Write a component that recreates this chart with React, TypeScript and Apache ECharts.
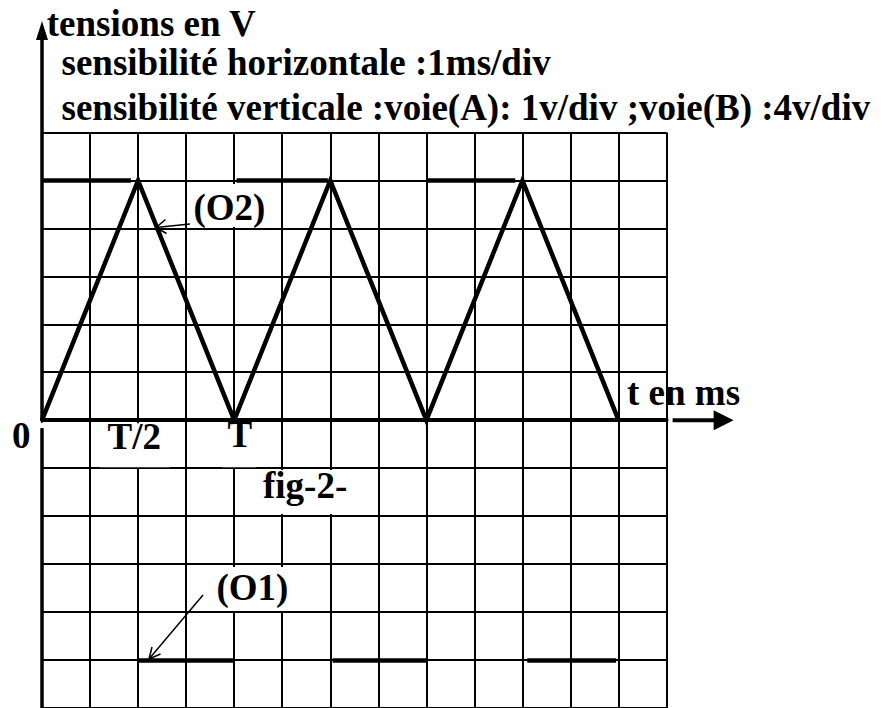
import React, { useEffect, useRef } from "react";
import * as echarts from "echarts";

// ---- data (time in ms, amplitude in divisions) ----
const o2TimesMs = [0, 2, 4, 6, 8, 10, 12];
const o2Divisions = [0, 5, 0, 5, 0, 5, 0];

const o1HighLevel = 5;
const o1LowLevel = -5;
const o1HighStarts = [0, 4.05, 8];
const o1HighEnds = [1.85, 5.95, 9.85];
const o1LowStarts = [1.98, 6.05, 10.1];
const o1LowEnds = [4, 8.02, 11.95];

const xMinMs = 0;
const xMaxMs = 13;
const yMinDiv = -6;
const yMaxDiv = 6;

const tickLabelTexts = ["0", "T/2", "T"];
const titleLines = [
  "tensions en V",
  "sensibilité horizontale :1ms/div",
  "sensibilité verticale :voie(A): 1v/div ;voie(B) :4v/div",
];
const axisTitleX = "t en ms";
const figLabel = "fig-2-";
const o2Label = "(O2)";
const o1Label = "(O1)";

const FONT = '"Liberation Serif", "Times New Roman", serif';
const FONT_SIZE = 37;

function label(text: string, x: number, cy: number) {
  return {
    type: "text",
    x,
    y: cy,
    z: 50,
    style: {
      text,
      fontFamily: FONT,
      fontWeight: "bold",
      fontSize: FONT_SIZE,
      fill: "#000",
      align: "left",
      textAlign: "left",
      verticalAlign: "middle",
      textVerticalAlign: "middle",
    },
  };
}

function mask(x: number, y: number, w: number, h: number) {
  return {
    type: "rect",
    z: 40,
    shape: { x, y, width: w, height: h },
    style: { fill: "#fff", stroke: null },
  };
}

function seg(x1: number, y1: number, x2: number, y2: number, w: number) {
  return {
    type: "line",
    z: 45,
    shape: { x1, y1, x2, y2 },
    style: { stroke: "#000", lineWidth: w, lineCap: "butt" },
  };
}

export default function App() {
  const ref = useRef<HTMLDivElement>(null);

  useEffect(() => {
    if (!ref.current) return;
    const chart = echarts.init(ref.current, null, { renderer: "svg" });

    const o2Data = o2TimesMs.map((t, i) => [t, o2Divisions[i]]);
    const o1Data = [
      ...o1HighStarts.map((s, i) => ({
        coords: [
          [s, o1HighLevel],
          [o1HighEnds[i], o1HighLevel],
        ],
      })),
      ...o1LowStarts.map((s, i) => ({
        coords: [
          [s, o1LowLevel],
          [o1LowEnds[i], o1LowLevel],
        ],
      })),
    ];

    chart.setOption({
      animation: false,
      backgroundColor: "#fff",
      grid: { left: 42, top: 132.5, width: 624.6, height: 575.4, containLabel: false },
      xAxis: {
        type: "value",
        min: xMinMs,
        max: xMaxMs,
        interval: 1,
        axisLine: { show: true, onZero: true, lineStyle: { color: "#000", width: 4 } },
        axisTick: { show: false },
        axisLabel: { show: false },
        splitLine: { show: true, lineStyle: { color: "#000", width: 2 } },
      },
      yAxis: {
        type: "value",
        min: yMinDiv,
        max: yMaxDiv,
        interval: 1,
        axisLine: { show: false },
        axisTick: { show: false },
        axisLabel: { show: false },
        splitLine: { show: true, lineStyle: { color: "#000", width: 2 } },
      },
      series: [
        {
          name: "O2",
          type: "line",
          data: o2Data,
          symbol: "none",
          z: 5,
          lineStyle: { color: "#000", width: 4.5, join: "miter", miterLimit: 10 },
        },
        {
          name: "O1",
          type: "lines",
          coordinateSystem: "cartesian2d",
          data: o1Data,
          z: 5,
          lineStyle: { color: "#000", width: 4.5, opacity: 1, cap: "butt" },
        },
      ],
    });

    const p = (x: number, y: number) =>
      chart.convertToPixel({ gridIndex: 0 }, [x, y]) as number[];
    const [x0, y0] = p(0, 0);
    const yBottom = p(0, yMinDiv)[1];
    const xEnd = p(xMaxMs, 0)[0];

    const graphic: any[] = [
      // vertical axis with gap just under the time axis and arrow on top
      seg(x0, yBottom, x0, y0 + 8, 3.5),
      seg(x0, y0, x0, 36, 3.5),
      mask(x0 - 3, y0 + 2.5, 6, 5.5),
      {
        type: "polygon",
        z: 45,
        shape: { points: [[x0, 21], [x0 - 6, 40], [x0 + 6, 40]] },
        style: { fill: "#000" },
      },
      // time axis extension with arrow
      seg(xEnd + 6, y0, xEnd + 50, y0, 4),
      {
        type: "polygon",
        z: 45,
        shape: { points: [[xEnd + 67, y0], [xEnd + 47, y0 - 10], [xEnd + 47, y0 + 10]] },
        style: { fill: "#000" },
      },
      // masks behind labels
      mask(100, y0 + 3, 70, 44),
      mask(222, y0 + 3, 34, 44),
      mask(257, 470, 96, 44),
      mask(189, 184, 80, 43),
      mask(212, 567, 80, 44),
      // arrows to the curves
      seg(190, 224, 156, 227.5, 1.5),
      seg(156, 227.5, 166.5, 233.5, 1.5),
      seg(156, 227.5, 165.5, 219.5, 1.5),
      seg(203, 595, 149, 659, 1.5),
      seg(149, 659, 160.5, 654, 1.5),
      seg(149, 659, 152, 647, 1.5),
      // texts
      label(titleLines[0], 46.8, 23.5),
      label(titleLines[1], 61.5, 62.5),
      label(titleLines[2], 61.5, 107),
      label(tickLabelTexts[0], 12, 435.5),
      label(tickLabelTexts[1], 107.5, 436),
      label(tickLabelTexts[2], 227.5, 434.2),
      label(figLabel, 263, 485.5),
      label(axisTitleX, 627, 392.5),
      label(o2Label, 193.5, 207.5),
      label(o1Label, 216.5, 587.5),
    ];

    chart.setOption({ graphic });

    return () => chart.dispose();
  }, []);

  return (
    <div
      ref={ref}
      style={{ position: "fixed", left: 0, top: 0, width: 883, height: 708, background: "#fff" }}
    />
  );
}
